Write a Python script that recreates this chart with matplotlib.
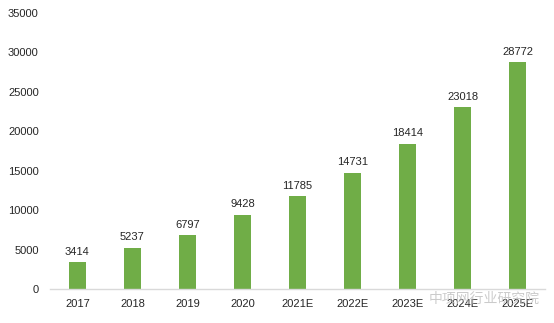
import matplotlib.pyplot as plt

# data
years = ["2017", "2018", "2019", "2020", "2021E", "2022E", "2023E", "2024E", "2025E"]
values = [3414, 5237, 6797, 9428, 11785, 14731, 18414, 23018, 28772]
y_ticks = [0, 5000, 10000, 15000, 20000, 25000, 30000, 35000]

plt.rcParams["font.family"] = ["Liberation Sans", "Noto Sans CJK SC", "DejaVu Sans"]

fig = plt.figure(figsize=(5.54, 3.23), dpi=100)
ax = fig.add_axes([0.09, 0.105, 0.894, 0.855])

x = range(len(years))
bars = ax.bar(x, values, width=0.31, color="#70AD47", zorder=2)

# value labels above each bar
for xi, v in zip(x, values):
    ax.text(xi, v + 700, str(v), ha="center", va="bottom", fontsize=8, color="#262626")

ax.set_xlim(-0.5, len(years) - 0.5)
ax.set_ylim(0, 35000)
ax.set_yticks(y_ticks)
ax.set_yticklabels([str(t) for t in y_ticks])
ax.set_xticks(list(x))
ax.set_xticklabels(years)
ax.tick_params(axis="both", length=0, labelsize=8, colors="#262626")
ax.tick_params(axis="x", pad=7)
ax.tick_params(axis="y", pad=8)

for side in ["top", "right", "left"]:
    ax.spines[side].set_visible(False)
ax.spines["bottom"].set_color("#D9D9D9")
ax.spines["bottom"].set_linewidth(1)

# watermark bottom right (it sits over the last tick labels, as in the reference)
fig.text(0.975, 0.075, "中项网行业研究院", ha="right", va="center", fontsize=10,
         color="#BFBFBF", alpha=0.8, family=["Noto Sans CJK SC", "DejaVu Sans"])

fig.savefig("out.png", dpi=100)
